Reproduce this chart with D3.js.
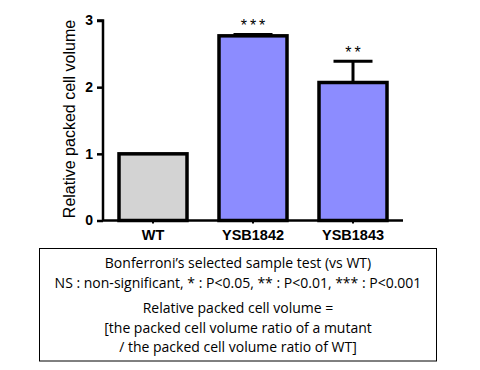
<!DOCTYPE html>
<html>
<head>
<meta charset="utf-8">
<script src="https://cdn.jsdelivr.net/npm/d3@7.9.0/dist/d3.min.js"></script>
<style>
  body { margin: 0; background: #fff; }
  svg { display: block; }
</style>
</head>
<body>
<svg width="480" height="370"></svg>
<script>
// data
const strains = ['WT', 'YSB1842', 'YSB1843'];
const means = [1.0, 2.77, 2.07];
const errors = [0, 0.02, 0.32];
const stars = ['', '***', '**'];
const yTicks = [0, 1, 2, 3];
const noteLines = [
  'Bonferroni\u2019s selected sample test (vs WT)',
  'NS : non-significant, * : P<0.05, ** : P<0.01, *** : P<0.001',
  'Relative packed cell volume =',
  '[the packed cell volume ratio of a mutant',
  '/ the packed cell volume ratio of WT]'
];
const noteY = [263, 283, 308, 328, 347];
const fills = ['#d3d3d3', '#8c8cff', '#8c8cff'];

const svg = d3.select('svg');

// scales
let x = d3.scaleBand().domain(strains).range([103, 403]).paddingInner(0.32).paddingOuter(0.16);
let y = d3.scaleLinear().domain([0, 3]).range([220.5, 20.5]);

// bars
svg.selectAll('rect.bar')
  .data(strains)
  .join('rect')
  .attr('class', 'bar')
  .attr('x', d => x(d))
  .attr('width', x.bandwidth())
  .attr('y', (d, i) => y(means[i]))
  .attr('height', (d, i) => y(0) - y(means[i]))
  .attr('fill', (d, i) => fills[i])
  .attr('stroke', '#000')
  .attr('stroke-width', 3.5);

// error bars (upper only) + significance stars
strains.forEach((s, i) => {
  if (!errors[i]) return;
  let cx = x(s) + x.bandwidth() / 2;
  svg.append('line')
    .attr('x1', cx).attr('x2', cx)
    .attr('y1', y(means[i])).attr('y2', y(means[i] + errors[i]))
    .attr('stroke', '#000').attr('stroke-width', 3);
  svg.append('line')
    .attr('x1', cx - 19.5).attr('x2', cx + 19.5)
    .attr('y1', y(means[i] + errors[i])).attr('y2', y(means[i] + errors[i]))
    .attr('stroke', '#000').attr('stroke-width', 3);
  svg.append('text')
    .attr('x', cx + 1.5)
    .attr('y', y(means[i] + errors[i]) - 3.5)
    .attr('text-anchor', 'middle')
    .attr('font-family', 'Liberation Sans, Arial, sans-serif')
    .attr('font-size', 16)
    .attr('letter-spacing', 3)
    .attr('fill', '#000')
    .text(stars[i]);
});

// y axis
let yAxis = svg.append('g')
  .attr('transform', 'translate(103,0)')
  .call(d3.axisLeft(y).tickValues(yTicks).tickFormat(d3.format('d')).tickSize(6).tickPadding(4));
yAxis.select('.domain').attr('stroke-width', 2.5).attr('d', `M-6,${y(3)}H0V${y(0)}`);
yAxis.selectAll('.tick line').attr('stroke-width', 2.5);
yAxis.selectAll('.tick text')
  .attr('font-family', 'Liberation Sans, Arial, sans-serif')
  .attr('font-size', 14).attr('font-weight', 'bold').attr('fill', '#000');

// x axis
let xAxis = svg.append('g')
  .attr('transform', `translate(0,${y(0)})`)
  .call(d3.axisBottom(x).tickSize(3).tickPadding(6));
xAxis.select('.domain').attr('stroke-width', 2.5).attr('d', `M103,0H403`);
xAxis.selectAll('.tick line').attr('stroke-width', 2);
xAxis.selectAll('.tick text')
  .attr('font-family', 'Liberation Sans, Arial, sans-serif')
  .attr('font-size', 14.5).attr('font-weight', 'bold').attr('fill', '#000');

// y label
svg.append('text')
  .attr('transform', 'translate(74.5,119) rotate(-90)')
  .attr('text-anchor', 'middle')
  .attr('font-family', 'Liberation Sans, Arial, sans-serif')
  .attr('font-size', 16)
  .attr('fill', '#000')
  .text('Relative packed cell volume');

// note box
svg.append('rect')
  .attr('x', 39.5).attr('y', 248.5)
  .attr('width', 397).attr('height', 112.5)
  .attr('fill', 'none').attr('stroke', '#000').attr('stroke-width', 1);

svg.selectAll('text.note')
  .data(noteLines)
  .join('text')
  .attr('class', 'note')
  .attr('x', 238)
  .attr('y', (d, i) => noteY[i] + 5)
  .attr('text-anchor', 'middle')
  .attr('font-family', 'Open Sans, sans-serif')
  .attr('font-size', 14)
  .attr('fill', '#000')
  .text(d => d);
</script>
</body>
</html>
